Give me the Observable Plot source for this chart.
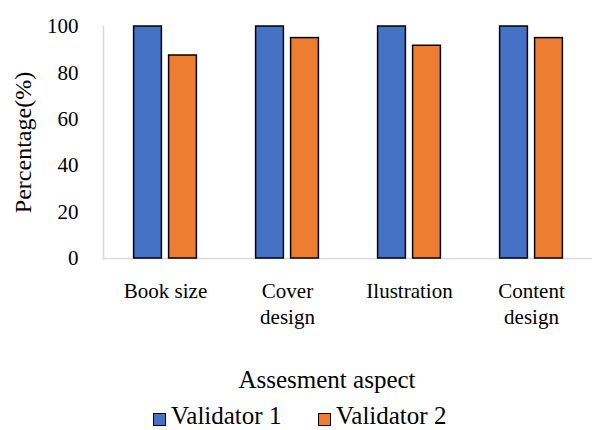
<!DOCTYPE html>
<html>
<head>
<meta charset="utf-8">
<script src="https://cdn.jsdelivr.net/npm/d3@7"></script>
<script src="https://cdn.jsdelivr.net/npm/@observablehq/plot@0.6"></script>
<style>
  body { margin: 0; background: #fff; }
  #chart { position: relative; width: 592px; height: 430px; font-family: "Liberation Serif", serif; color: #000; overflow: hidden; }
  #legend { position: relative; height: 30px; font-size: 25px; }
  .item { position: absolute; top: 3px; display: flex; align-items: flex-start; line-height: 25px; }
  .sw { width: 11px; height: 11px; border: 1.5px solid #000; margin-right: 5px; margin-top: 10px; }
</style>
</head>
<body>
<div id="chart"></div>
<script>
const categories = ["Book size", "Cover design", "Ilustration", "Content design"];
const tickLabels = ["Book size", "Cover\ndesign", "Ilustration", "Content\ndesign"];
const validator1 = [100, 100, 100, 100];
const validator2 = [87.5, 95, 91.7, 95];
const yTicks = [0, 20, 40, 60, 80, 100];
const seriesNames = ["Validator 1", "Validator 2"];
const seriesColors = ["#4472C4", "#ED7D31"];
const yLabel = "Percentage(%)";
const xLabel = "Assesment aspect";

const data1 = categories.map((c, i) => ({category: c, value: validator1[i]}));
const data2 = categories.map((c, i) => ({category: c, value: validator2[i]}));

const plot = Plot.plot({
  width: 592,
  height: 400,
  marginLeft: 103,
  marginRight: 0,
  marginTop: 26,
  marginBottom: 142,
  style: {fontFamily: "'Liberation Serif', serif", color: "#000", background: "#fff"},
  x: {domain: categories, padding: 0, axis: null},
  y: {domain: [0, 100], axis: null},
  marks: [
    Plot.ruleY([0], {stroke: "#d9d9d9", strokeWidth: 1.5}),
    Plot.frame({anchor: "left", stroke: "#d9d9d9", strokeWidth: 1.5}),
    Plot.axisX({tickSize: 0, tickPadding: 22, fontSize: 21, lineHeight: 1.2, label: null,
      tickFormat: d => tickLabels[categories.indexOf(d)]}),
    Plot.axisY({ticks: yTicks, tickSize: 0, tickPadding: 25, fontSize: 21, label: null}),
    Plot.barY(data1, {x: "category", y: "value", fill: seriesColors[0], stroke: "#000", strokeWidth: 1.5, insetLeft: 29.6, insetRight: 64.6}),
    Plot.barY(data2, {x: "category", y: "value", fill: seriesColors[1], stroke: "#000", strokeWidth: 1.5, insetLeft: 64.6, insetRight: 29.6}),
    Plot.text([yLabel], {text: d => d, frameAnchor: "left", textAnchor: "middle", lineAnchor: "middle", rotate: -90, dx: -80, fontSize: 24}),
    Plot.text([xLabel], {text: d => d, frameAnchor: "bottom", textAnchor: "middle", lineAnchor: "bottom", dx: -21, dy: 129, fontSize: 25})
  ]
});

const chart = document.getElementById("chart");
chart.appendChild(plot);

const legend = document.createElement("div");
legend.id = "legend";
const lefts = [153, 318];
seriesNames.forEach((name, i) => {
  const item = document.createElement("div");
  item.className = "item";
  item.style.left = lefts[i] + "px";
  const sw = document.createElement("span");
  sw.className = "sw";
  sw.style.background = seriesColors[i];
  const t = document.createElement("span");
  t.textContent = name;
  item.appendChild(sw);
  item.appendChild(t);
  legend.appendChild(item);
});
chart.appendChild(legend);
</script>
</body>
</html>
